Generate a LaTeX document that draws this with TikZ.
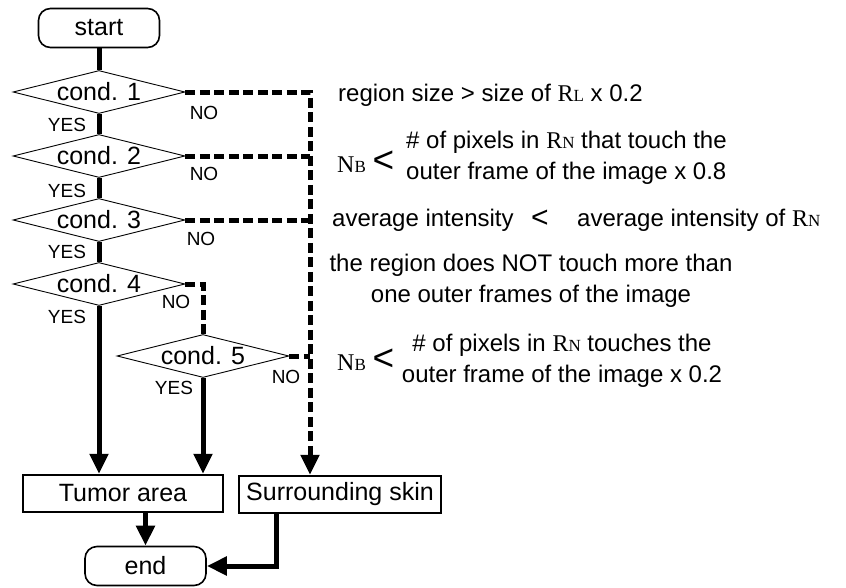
\documentclass[tikz,border=0pt]{standalone}
\usepackage{fontspec}
\setmainfont{Liberation Sans}
\newfontfamily\serf{Liberation Serif}
\usetikzlibrary{shapes.geometric,arrows.meta,calc}
\newcommand{\RS}[2]{{\serf #1{\fontsize{17}{17}\selectfont #2}}}
\newcommand{\bigless}{{\fontsize{37}{37}\selectfont <}}
\newcommand{\midless}{{\fontsize{30}{30}\selectfont <}}
\tikzset{
  term/.style={draw, line width=1.6pt, rounded corners=12pt, minimum width=121pt, minimum height=39pt, inner sep=0pt, font=\fontsize{25}{25}\selectfont},
  dec/.style={diamond, aspect=4, draw, line width=0.9pt, inner sep=0pt, minimum width=172pt, minimum height=43pt, font=\fontsize{25}{25}\selectfont},
  outbox/.style={draw, line width=2.4pt, minimum width=200pt, minimum height=37pt, inner sep=0pt, font=\fontsize{25}{25}\selectfont},
  solidln/.style={line width=5pt},
  solidarr/.style={line width=5pt, -{Triangle[width=18pt,length=20pt]}},
  dashln/.style={line width=5pt, dash pattern=on 10pt off 4.5pt},
  lbl/.style={font=\fontsize{19}{19}\selectfont, inner sep=0pt},
  txt/.style={font=\fontsize{24}{31}\selectfont, inner sep=0pt}
}
\begin{document}
\begin{tikzpicture}[x=1pt,y=-1pt]
\useasboundingbox (0,0) rectangle (846,587);
% flow nodes
\node[term] (start) at (99,28) {start};
\node[dec] (c1) at (99,92) {cond. 1};
\node[dec] (c2) at (99,156) {cond. 2};
\node[dec] (c3) at (99,220) {cond. 3};
\node[dec] (c4) at (99,284) {cond. 4};
\node[dec] (c5) at (203,356) {cond. 5};
\node[outbox] (tumor) at (123,493.5) {Tumor area};
\node[outbox, minimum width=202pt] (skin) at (340,494.5) {Surrounding skin};
\node[term] (end) at (145.5,566) {end};
\coordinate (bus) at (310,92);
% solid connectors
\draw[solidln] (start) -- (c1);
\draw[solidln] (c1) -- (c2);
\draw[solidln] (c2) -- (c3);
\draw[solidln] (c3) -- (c4);
\draw[solidarr] (c4.south) -- (c4.south |- tumor.north);
\draw[solidarr] (c5.south) -- (c5.south |- tumor.north);
\draw[solidarr] (tumor.south -| end.north) -- (end.north);
\draw[solidarr] ($(skin.south)+(-64,0)$) |- (end.east);
% dashed connectors
\draw[dashln, -{Triangle[width=18pt,length=20pt]}] (c1.east) -- (bus) -- (bus |- skin.north);
\draw[dashln] (c2.east) -- (c2.east -| bus);
\draw[dashln] (c3.east) -- (c3.east -| bus);
\draw[dashln] (c4.east) -- (c4.east -| c5.north) -- (c5.north);
\draw[dashln] (c5.east) -- (c5.east -| bus);
% YES / NO labels
\node[lbl] (y1) at (67,125) {YES};
\node[lbl] (y2) at (67,191) {YES};
\node[lbl] (y3) at (67,252) {YES};
\node[lbl] (y4) at (67,317) {YES};
\node[lbl] (y5) at (174,388) {YES};
\node[lbl] (n1) at (204,113) {NO};
\node[lbl] (n2) at (204,174) {NO};
\node[lbl] (n3) at (201,239) {NO};
\node[lbl] (n4) at (176,302) {NO};
\node[lbl] (n5) at (286,377) {NO};
% condition descriptions
\node[txt, anchor=west] (t1) at (338,95) {region size > size of \RS{R}{L} x 0.2};
\node[txt, anchor=west] (t2a) at (337,162) {\RS{N}{B} \bigless};
\node[txt, anchor=west, align=left] (t2b) at (406,158) {\# of pixels in \RS{R}{N} that touch the\\outer frame of the image x 0.8};
\node[txt, anchor=west] (t3a) at (332,220) {average intensity};
\node[txt] (t3b) at (540,219) {\midless};
\node[txt, anchor=west] (t3c) at (577,220) {average intensity of \RS{R}{N}};
\node[txt, align=center] (t4) at (531,281) {the region does NOT touch more than\\one outer frames of the image};
\node[txt, anchor=west] (t5a) at (337,360) {\RS{N}{B} \bigless};
\node[txt, align=center] (t5b) at (562,361) {\# of pixels in \RS{R}{N} touches the\\outer frame of the image x 0.2};
\end{tikzpicture}
\end{document}
